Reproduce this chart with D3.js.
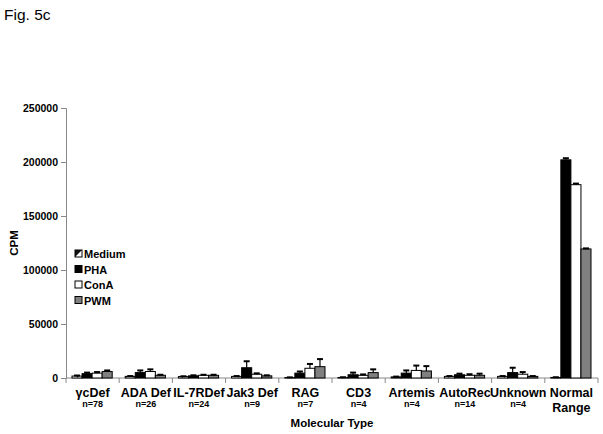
<!DOCTYPE html>
<html><head><meta charset="utf-8">
<script src="https://cdn.jsdelivr.net/npm/d3@7"></script>
<style>body{margin:0;background:#fff}svg{display:block}text{font-family:"Liberation Sans",Arial,sans-serif}</style>
</head><body><svg id="c" width="603" height="434"></svg>
<script>
const categories = ["γcDef","ADA Def","IL-7RDef","Jak3 Def","RAG","CD3","Artemis","AutoRec","Unknown","Normal Range"];
const nLabels = ["n=78","n=26","n=24","n=9","n=7","n=4","n=4","n=14","n=4",""];
const seriesNames = ["Medium","PHA","ConA","PWM"];
const medium    = [1800,1500,1300,1500,400,500,1000,1500,1500,500];
const pha       = [4000,5000,2000,9500,4500,3000,4500,3000,5000,202000];
const conA      = [4500,6000,2500,3500,9000,2500,7000,2500,3500,179000];
const pwm       = [6000,2500,2500,2000,10500,5000,6500,2500,1500,119500];
const mediumErr = [500,300,300,300,200,200,300,300,300,200];
const phaErr    = [1000,2000,500,6000,1500,2000,2500,1000,4500,1500];
const conAErr   = [1000,2000,500,800,4000,800,4500,1000,2000,1000];
const pwmErr    = [1000,500,500,500,7000,3000,4500,1500,300,500];
const yTicks = [0,50000,100000,150000,200000,250000];

const values = [medium,pha,conA,pwm];
const errs = [mediumErr,phaErr,conAErr,pwmErr];

const svg = d3.select("#c");
const defs = svg.append("defs");
const pat = defs.append("pattern").attr("id","medPat").attr("patternUnits","userSpaceOnUse")
  .attr("width",7).attr("height",7);
pat.append("rect").attr("width",7).attr("height",7).attr("fill","#111");
pat.append("path").attr("d","M7,0 L7,7 L0,7 Z").attr("fill","#fff");

const fills = ["url(#medPat)","#000","#fff","#808080"];

const L = 66, R = 598, T = 108, B = 378;
const y = d3.scaleLinear().domain([0,250000]).range([B,T]);
const x0 = d3.scaleBand().domain(categories).range([L,R]).paddingInner(0).paddingOuter(0);
const x1 = d3.scaleBand().domain(seriesNames).range([6, x0.bandwidth()-7]).padding(0);

// Title
svg.append("text").attr("x",4).attr("y",20).attr("font-size",15.5)
  .attr("font-family","'Open Sans',sans-serif").text("Fig. 5c");

// Y axis
const yAxis = svg.append("g").attr("transform",`translate(${L},0)`)
  .call(d3.axisLeft(y).tickValues(yTicks).tickSize(5).tickPadding(3).tickFormat(d3.format("d")));
yAxis.select(".domain").attr("stroke","#888");
yAxis.selectAll(".tick line").attr("stroke","#888");
yAxis.selectAll(".tick text").attr("font-size",10.5).attr("font-weight","bold").attr("fill","#000")
  .attr("font-family","'Liberation Sans',Arial,sans-serif");

// X axis line and ticks at boundaries
svg.append("line").attr("x1",L).attr("x2",R).attr("y1",B).attr("y2",B).attr("stroke","#888");
const bounds = categories.map(c=>x0(c)).concat([R]);
svg.append("g").selectAll("line").data(bounds).join("line")
  .attr("x1",d=>d).attr("x2",d=>d).attr("y1",B).attr("y2",B+5).attr("stroke","#888");

// Bars
const g = svg.append("g");
categories.forEach((c,i)=>{
  seriesNames.forEach((s,j)=>{
    const v = values[j][i], e = errs[j][i];
    const bx = x0(c)+x1(s), bw = x1.bandwidth();
    g.append("rect").attr("x",bx).attr("y",y(v)).attr("width",bw).attr("height",B-y(v))
      .attr("fill",fills[j]).attr("stroke","#000").attr("stroke-width",1);
    const cx = bx+bw/2;
    g.append("line").attr("x1",cx).attr("x2",cx).attr("y1",y(v)).attr("y2",y(v+e))
      .attr("stroke","#000").attr("stroke-width",1.2);
    g.append("line").attr("x1",cx-3).attr("x2",cx+3).attr("y1",y(v+e)).attr("y2",y(v+e))
      .attr("stroke","#000").attr("stroke-width",2);
  });
});

// Category labels
const lab = svg.append("g");
categories.forEach((c,i)=>{
  const cx = x0(c)+x0.bandwidth()/2;
  if (c === "Normal Range") {
    lab.append("text").attr("x",cx).attr("y",397).attr("text-anchor","middle")
      .attr("font-size",12.5).attr("font-weight","bold").text("Normal");
    lab.append("text").attr("x",cx).attr("y",412).attr("text-anchor","middle")
      .attr("font-size",12.5).attr("font-weight","bold").text("Range");
  } else {
    lab.append("text").attr("x",cx).attr("y",397).attr("text-anchor","middle")
      .attr("font-size",12.5).attr("font-weight","bold").text(c);
    lab.append("text").attr("x",cx).attr("y",407).attr("text-anchor","middle")
      .attr("font-size",9).attr("font-weight","bold").text(nLabels[i]);
  }
});

svg.append("text").attr("x",(L+R)/2).attr("y",427).attr("text-anchor","middle")
  .attr("font-size",11.5).attr("font-weight","bold").text("Molecular Type");
svg.append("text").attr("transform",`translate(18,${(T+B)/2}) rotate(-90)`).attr("text-anchor","middle")
  .attr("font-size",11.5).attr("font-weight","bold").text("CPM");

// Legend
const leg = svg.append("g").attr("transform","translate(75,250)");
seriesNames.forEach((s,j)=>{
  const row = leg.append("g").attr("transform",`translate(0,${j*15.5})`);
  row.append("rect").attr("x",0).attr("y",0).attr("width",7).attr("height",7)
    .attr("fill",fills[j]).attr("stroke","#000").attr("stroke-width",1);
  row.append("text").attr("x",9).attr("y",8).attr("font-size",11).attr("font-weight","bold").text(s);
});
</script></body></html>
